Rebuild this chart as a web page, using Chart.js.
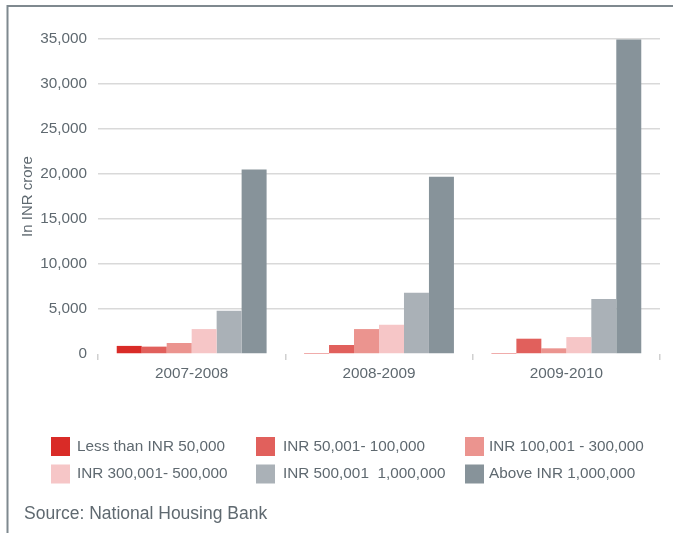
<!DOCTYPE html>
<html>
<head>
<meta charset="utf-8">
<script src="https://cdn.jsdelivr.net/npm/chart.js@4.4.1/dist/chart.umd.min.js"></script>
<style>
  html, body { margin: 0; padding: 0; background: #ffffff; }
  #wrap { position: relative; width: 673px; height: 533px; }
  canvas { display: block; }
</style>
</head>
<body>
<div id="wrap"><canvas id="c" width="673" height="533"></canvas></div>
<script>
// ---- Data ----
const categories = ['2007-2008', '2008-2009', '2009-2010'];
const seriesLabels = [
  'Less than INR 50,000',
  'INR 50,001- 100,000',
  'INR 100,001 - 300,000',
  'INR 300,001- 500,000',
  'INR 500,001  1,000,000',
  'Above INR 1,000,000'
];
const lessThan50k   = [900, 40, 40];
const from50kTo100k = [820, 1000, 1700];
const from100kTo300k = [1220, 2770, 630];
const from300kTo500k = [2770, 3250, 1880];
const from500kTo1m  = [4800, 6800, 6100];
const above1m       = [20500, 19700, 34950];
const yTicks = [0, 5000, 10000, 15000, 20000, 25000, 30000, 35000];

const seriesValues = [lessThan50k, from50kTo100k, from100kTo300k, from300kTo500k, from500kTo1m, above1m];
const seriesColors = ['#d92b27', '#e1605c', '#eb948f', '#f6c6c7', '#aab1b7', '#87939a'];

const FONT = '"Liberation Sans", Arial, Helvetica, sans-serif';
const TEXT = '#5f6970';

const legendPlugin = {
  id: 'customLegend',
  beforeDraw(chart) {
    const ctx = chart.ctx;
    ctx.save();
    ctx.strokeStyle = '#7f898f';
    ctx.lineWidth = 2;
    ctx.beginPath();
    ctx.moveTo(7, 6); ctx.lineTo(673, 6);
    ctx.moveTo(7.5, 5); ctx.lineTo(7.5, 533);
    ctx.stroke();
    ctx.restore();
  },
  afterDraw(chart) {
    const ctx = chart.ctx;
    const colBox = [51, 256, 465];
    const colText = [77, 283, 489];
    const rowTop = [437, 464.5];
    ctx.save();
    ctx.font = '15.3px ' + FONT;
    ctx.textBaseline = 'middle';
    ctx.textAlign = 'left';
    chart.data.datasets.forEach((ds, i) => {
      const r = Math.floor(i / 3), c = i % 3;
      ctx.fillStyle = ds.backgroundColor;
      ctx.fillRect(colBox[c], rowTop[r], 19, 19);
      ctx.fillStyle = TEXT;
      ctx.fillText(ds.label, colText[c], rowTop[r] + 9.5);
    });
    ctx.font = '17.5px ' + FONT;
    ctx.fillText('Source: National Housing Bank', 24, 514);
    ctx.restore();
  }
};

new Chart(document.getElementById('c'), {
  type: 'bar',
  data: {
    labels: categories,
    datasets: seriesLabels.map((lbl, i) => ({
      label: lbl,
      data: seriesValues[i],
      backgroundColor: seriesColors[i],
      borderWidth: 0,
      barPercentage: 1,
      categoryPercentage: 0.8
    }))
  },
  options: {
    responsive: false,
    animation: false,
    devicePixelRatio: 1,
    layout: { padding: { left: 0, right: 13, top: 39, bottom: 139 } },
    plugins: { legend: { display: false }, tooltip: { enabled: false } },
    scales: {
      x: {
        grid: { drawOnChartArea: false, drawTicks: true, tickLength: 6, color: '#d0d0d0', lineWidth: 1.5 },
        border: { display: false },
        ticks: { color: TEXT, font: { family: FONT, size: 15.3 }, padding: 5 },
        afterFit(scale) { scale.height = 40; }
      },
      y: {
        min: 0,
        max: 35000,
        afterBuildTicks(scale) { scale.ticks = yTicks.map(v => ({ value: v })); },
        grid: {
          drawTicks: false,
          color: (c) => (c.tick && c.tick.value === 0) ? 'rgba(0,0,0,0)' : '#d9d9d9',
          lineWidth: 1.5
        },
        border: { display: false },
        ticks: {
          color: TEXT,
          font: { family: FONT, size: 15.3 },
          padding: 11,
          callback: (v) => v.toLocaleString('en-US')
        },
        title: {
          display: true,
          text: 'In INR crore',
          color: TEXT,
          font: { family: FONT, size: 15 },
          padding: { top: 19, bottom: 0 }
        },
        afterFit(scale) { scale.width = 98; }
      }
    }
  },
  plugins: [legendPlugin]
});
</script>
</body>
</html>
